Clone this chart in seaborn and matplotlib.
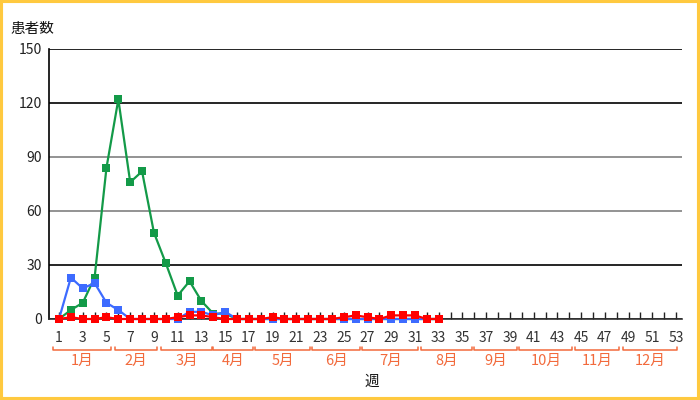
import matplotlib
matplotlib.use("Agg")
import matplotlib.pyplot as plt
import matplotlib.transforms as mtransforms
from matplotlib.patches import Rectangle
import seaborn as sns
import pandas as pd

# ---- data ----
weeks = list(range(1, 34))
series_green = [0, 5, 9, 23, 84, 122, 76, 82, 48, 31, 13, 21, 10, 3, 3, 0,
                0, 0, 0, 0, 0, 0, 0, 0, 0, 0, 0, 0, 0, 0, 0, 0, 0]
series_blue = [0, 23, 17, 20, 9, 5, 0, 0, 0, 0, 0, 4, 4, 2, 4, 0,
               0, 0, 0, 0, 0, 0, 0, 0, 0, 0, 0, 0, 0, 0, 0, 0, 0]
series_red = [0, 1, 0, 0, 1, 0, 0, 0, 0, 0, 1, 2, 2, 1, 0, 0,
              0, 0, 1, 0, 0, 0, 0, 0, 1, 2, 1, 0, 2, 2, 2, 0, 0]
series_names = ["系列A", "系列B", "系列C"]
all_weeks = list(range(1, 54))
week_labels = [str(w) if w % 2 == 1 else "" for w in all_weeks]
y_ticks = [0, 30, 60, 90, 120, 150]
month_labels = ["1月", "2月", "3月", "4月", "5月", "6月", "7月", "8月", "9月", "10月", "11月", "12月"]
month_start = [0.52, 5.74, 9.62, 14.0, 17.52, 22.35, 26.56, 31.5, 36.0, 39.8, 44.51, 48.56]
month_end = [5.38, 9.28, 13.87, 17.38, 22.15, 26.37, 31.28, 35.83, 39.58, 44.26, 48.22, 53.1]

df = pd.DataFrame({
    "week": weeks * 3,
    "count": series_green + series_blue + series_red,
    "series": [series_names[0]] * len(weeks) + [series_names[1]] * len(weeks) + [series_names[2]] * len(weeks),
})

sns.set_theme(style="white")
plt.rcParams["font.family"] = ["Noto Sans CJK JP", "DejaVu Sans"]

fig = plt.figure(figsize=(7, 4), dpi=100)
ax = fig.add_axes([49 / 700, 1 - 319 / 400, (682 - 49) / 700, 270 / 400])

palette = {series_names[0]: "#139a48", series_names[1]: "#3d6bff", series_names[2]: "#ff0000"}
sns.lineplot(data=df, x="week", y="count", hue="series", hue_order=series_names,
             palette=palette, style="series", markers={n: "s" for n in series_names},
             dashes=False, markersize=5.5, markeredgewidth=0, linewidth=1.6,
             legend=False, ax=ax)
# z-order: green bottom, blue middle, red top
for ln, z in zip(ax.get_lines(), [3, 4, 5]):
    ln.set_zorder(z)
    ln.set_clip_on(False)

ax.set_xlim(0.157, 53.5)
ax.set_ylim(0, 150)
ax.set_xticks(all_weeks)
ax.set_xticklabels(week_labels)
ax.set_yticks(y_ticks)
ax.set_yticklabels([str(v) for v in y_ticks])
ax.tick_params(axis="x", direction="in", length=5, width=1, color="#222222",
               labelsize=10, labelcolor="#333333", pad=9, bottom=True)
ax.tick_params(axis="y", length=0, labelsize=10, labelcolor="#222222", pad=5)
ax.set_xlabel("")
ax.set_ylabel("")

ax.grid(axis="y", linewidth=1.2, color="black")
for gl, v in zip(ax.get_ygridlines(), y_ticks):
    if v in (60, 90):
        gl.set_color("#808080")
ax.set_axisbelow(True)

for s in ["top", "right"]:
    ax.spines[s].set_visible(False)
ax.spines["left"].set_color("black")
ax.spines["left"].set_linewidth(1.2)
ax.spines["bottom"].set_color("#333333")
ax.spines["bottom"].set_linewidth(1.2)

# month brackets
trans = mtransforms.blended_transform_factory(ax.transData, ax.transAxes)
month_color = "#f26a3c"
yb = -31 / 270
yc = -27.5 / 270
for lab, s, e in zip(month_labels, month_start, month_end):
    ax.plot([s, s, e, e], [yc, yb, yb, yc], color=month_color, lw=1.1,
            transform=trans, clip_on=False)
    ax.text((s + e) / 2, -42 / 270, lab, color=month_color, fontsize=10.5,
            ha="center", va="center", transform=trans)

fig.text(372 / 700, 1 - 382 / 400, "週", fontsize=10.5, ha="center", va="center", color="#111111")
fig.text(10 / 700, 1 - 29 / 400, "患者数", fontsize=10.5, ha="left", va="center", color="#111111")

fig.patches.append(Rectangle((0, 0), 1, 1, transform=fig.transFigure, fill=False,
                             edgecolor="#ffc93f", linewidth=4.4, zorder=10))

fig.savefig("out.png", dpi=100, facecolor="white")
